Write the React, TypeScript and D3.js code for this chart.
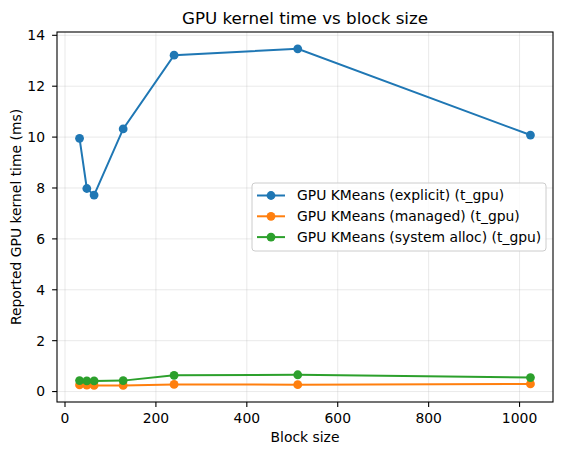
import React from 'react';
import * as d3 from 'd3';

const blockSizes = [32, 48, 64, 128, 240, 512, 1024];
const explicitMs = [9.95, 7.98, 7.72, 10.32, 13.22, 13.47, 10.08];
const managedMs = [0.26, 0.25, 0.24, 0.24, 0.28, 0.27, 0.3];
const systemAllocMs = [0.43, 0.42, 0.42, 0.43, 0.64, 0.66, 0.55];
const xTicks = [0, 200, 400, 600, 800, 1000];
const yTicks = [0, 2, 4, 6, 8, 10, 12, 14];

const series = [
  { name: 'GPU KMeans (explicit) (t_gpu)', values: explicitMs, color: '#1f77b4' },
  { name: 'GPU KMeans (managed) (t_gpu)', values: managedMs, color: '#ff7f0e' },
  { name: 'GPU KMeans (system alloc) (t_gpu)', values: systemAllocMs, color: '#2ca02c' },
];

const W = 562;
const H = 455;
const margin = { top: 32, right: 9, bottom: 53, left: 57 };
const font = "'DejaVu Sans', sans-serif";
const fs = 13.9;

export default function App() {
  const innerW = W - margin.left - margin.right;
  const innerH = H - margin.top - margin.bottom;

  const x = d3.scaleLinear().domain([-17.6, 1073.6]).range([0, innerW]);
  const y = d3.scaleLinear().domain([-0.41, 14.13]).range([innerH, 0]);

  const line = d3.line<number>()
    .x((_, i) => x(blockSizes[i]))
    .y(d => y(d));

  const legendX = 252 - margin.left;
  const legendY = 183 - margin.top;
  const rowH = 20.8;

  return (
    <svg width={W} height={H} style={{ position: 'absolute', left: 0, top: 0 }}>
      <rect width={W} height={H} fill="#fff" />
      <text x={margin.left + innerW / 2} y={23.5} textAnchor="middle" fontFamily={font} fontSize={16.7} fill="#000">
        GPU kernel time vs block size
      </text>
      <g transform={`translate(${margin.left},${margin.top})`}>
        {/* grid */}
        {xTicks.map(t => (
          <line key={'gx' + t} x1={x(t)} x2={x(t)} y1={0} y2={innerH} stroke="#b0b0b0" strokeOpacity={0.35} strokeWidth={0.8} />
        ))}
        {yTicks.map(t => (
          <line key={'gy' + t} x1={0} x2={innerW} y1={y(t)} y2={y(t)} stroke="#b0b0b0" strokeOpacity={0.35} strokeWidth={0.8} />
        ))}

        {/* series */}
        {series.map(s => (
          <g key={s.name}>
            <path d={line(s.values) || ''} fill="none" stroke={s.color} strokeWidth={2} />
            {s.values.map((v, i) => (
              <circle key={i} cx={x(blockSizes[i])} cy={y(v)} r={4.4} fill={s.color} />
            ))}
          </g>
        ))}

        {/* frame */}
        <rect x={0} y={0} width={innerW} height={innerH} fill="none" stroke="#000" strokeWidth={1.1} />

        {/* x ticks */}
        {xTicks.map(t => (
          <g key={'xt' + t} transform={`translate(${x(t)},${innerH})`}>
            <line y1={0} y2={4.9} stroke="#000" strokeWidth={1.1} />
            <text y={20.5} textAnchor="middle" fontFamily={font} fontSize={fs} fill="#000">{t}</text>
          </g>
        ))}
        {/* y ticks */}
        {yTicks.map(t => (
          <g key={'yt' + t} transform={`translate(0,${y(t)})`}>
            <line x1={0} x2={-4.9} stroke="#000" strokeWidth={1.1} />
            <text x={-12} dy="0.35em" textAnchor="end" fontFamily={font} fontSize={fs} fill="#000">{t}</text>
          </g>
        ))}

        {/* legend */}
        <rect x={legendX} y={legendY} width={294} height={68} rx={3} fill="#fff" fillOpacity={0.8} stroke="#cccccc" strokeWidth={1} />
        {series.map((s, i) => {
          const cy = legendY + 12.5 + i * rowH;
          return (
            <g key={'lg' + i}>
              <line x1={legendX + 5} x2={legendX + 33} y1={cy} y2={cy} stroke={s.color} strokeWidth={2} />
              <circle cx={legendX + 19} cy={cy} r={4.4} fill={s.color} />
              <text x={legendX + 45} y={cy} dy="0.35em" fontFamily={font} fontSize={fs} fill="#000">{s.name}</text>
            </g>
          );
        })}
      </g>
      <text x={margin.left + innerW / 2} y={442} textAnchor="middle" fontFamily={font} fontSize={fs} fill="#000">
        Block size
      </text>
      <text transform={`translate(20.5,${margin.top + innerH / 2}) rotate(-90)`} textAnchor="middle" fontFamily={font} fontSize={fs} fill="#000">
        Reported GPU kernel time (ms)
      </text>
    </svg>
  );
}
